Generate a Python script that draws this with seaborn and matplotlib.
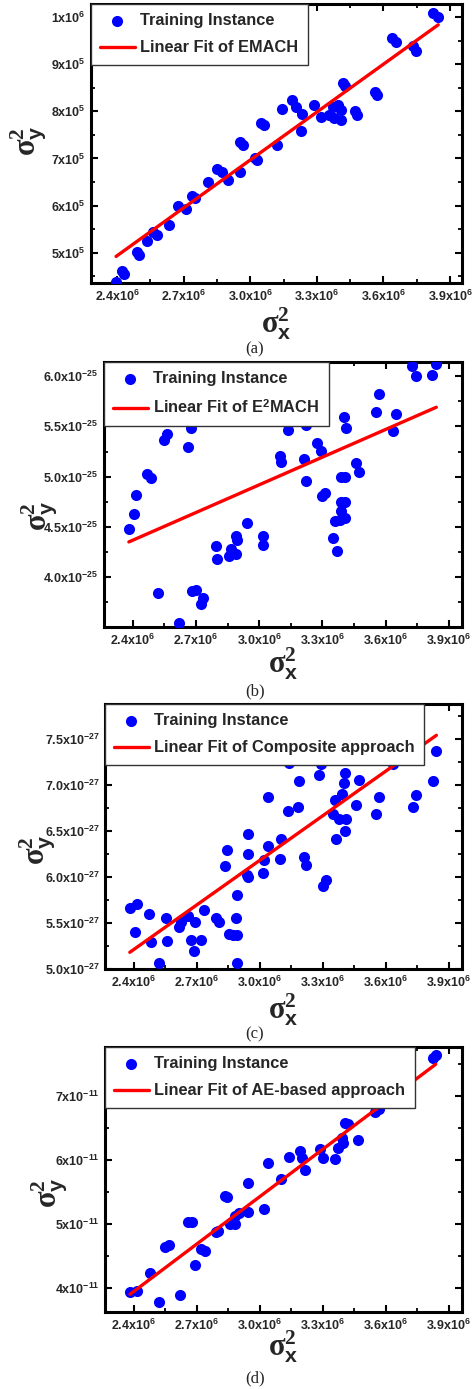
import numpy as np
import pandas as pd
import matplotlib
matplotlib.use('Agg')
import matplotlib.pyplot as plt
import seaborn as sns
from matplotlib.ticker import MultipleLocator

sns.set_style('white')
plt.rcParams['font.family'] = ['Liberation Sans', 'DejaVu Sans']
plt.rcParams['font.weight'] = 'bold'
plt.rcParams['mathtext.fontset'] = 'custom'
plt.rcParams['mathtext.rm'] = 'Liberation Serif'
plt.rcParams['mathtext.it'] = 'Liberation Serif:italic'
plt.rcParams['mathtext.bf'] = 'Liberation Sans:bold'
plt.rcParams['mathtext.default'] = 'rm'

# ---------------- data (x in 1e6, y in panel units) ----------------
xa = [2.395, 2.42, 2.43, 2.49, 2.50, 2.536, 2.56, 2.58, 2.632, 2.675, 2.708, 2.735, 2.75,
      2.81, 2.848, 2.871, 2.898, 2.953, 2.955, 2.965, 3.02, 3.03, 3.05, 3.06, 3.12, 3.145,
      3.19, 3.205, 3.231, 3.228, 3.288, 3.318, 3.371, 3.394, 3.409, 3.379, 3.409, 3.356,
      3.417, 3.425, 3.47, 3.48, 3.56, 3.57, 3.64, 3.655, 3.735, 3.745, 3.825, 3.847]
ya = [4.37, 4.60, 4.55, 5.01, 4.95, 5.25, 5.44, 5.38, 5.58, 6.00, 5.92, 6.20, 6.17,
      6.50, 6.77, 6.71, 6.55, 6.72, 7.34, 7.28, 7.02, 6.96, 7.76, 7.72, 7.28, 8.06,
      8.24, 8.10, 7.94, 7.58, 8.13, 7.89, 8.10, 8.13, 8.03, 7.85, 7.81, 7.92,
      8.60, 8.54, 8.00, 7.93, 8.42, 8.34, 9.55, 9.47, 9.38, 9.28, 10.08, 10.00]

xb = [2.382, 2.406, 2.414, 2.469, 2.488, 2.52, 2.548, 2.564, 2.619, 2.662, 2.675, 2.683,
      2.699, 2.722, 2.735, 2.796, 2.801, 2.856, 2.864, 2.888, 2.888, 2.896, 2.94, 3.016,
      3.019, 3.098, 3.102, 3.137, 3.221, 3.212, 3.221, 3.275, 3.291, 3.30, 3.311, 3.348,
      3.367, 3.359, 3.383, 3.406, 3.39, 3.406, 3.39, 3.386, 3.406, 3.401, 3.414, 3.458,
      3.474, 3.553, 3.569, 3.635, 3.648, 3.727, 3.743, 3.822, 3.840]
yb = [4.48, 4.63, 4.82, 5.03, 4.99, 3.84, 5.36, 5.42, 3.55, 5.30, 5.48, 3.86,
      3.87, 3.73, 3.79, 4.31, 4.18, 4.21, 4.28, 4.23, 4.41, 4.37, 4.54, 4.41,
      4.32, 5.21, 5.15, 5.46, 5.51, 5.18, 4.96, 5.33, 5.26, 4.81, 4.84, 4.39,
      4.26, 4.56, 4.57, 4.59, 4.66, 4.75, 4.75, 5.00, 5.00, 5.59, 5.48, 5.14,
      5.05, 5.64, 5.82, 5.45, 5.62, 6.10, 6.00, 6.01, 6.12]

xc = [2.382, 2.414, 2.406, 2.472, 2.485, 2.52, 2.552, 2.561, 2.614, 2.627, 2.658, 2.672,
      2.687, 2.694, 2.722, 2.733, 2.793, 2.804, 2.836, 2.845, 2.856, 2.872, 2.893, 2.888,
      2.893, 2.893, 2.94, 2.946, 2.946, 2.946, 3.014, 3.022, 3.038, 3.041, 3.098, 3.10,
      3.133, 3.18, 3.185, 3.137, 3.212, 3.221, 3.28, 3.291, 3.30, 3.316, 3.348, 3.375,
      3.411, 3.359, 3.39, 3.364, 3.406, 3.401, 3.406, 3.458, 3.474, 3.553, 3.569, 3.635,
      3.727, 3.743, 3.822, 3.840]
yc = [5.66, 5.71, 5.40, 5.60, 5.29, 5.07, 5.55, 5.31, 5.46, 5.51, 5.58, 5.32,
      5.20, 5.51, 5.32, 5.64, 5.55, 5.51, 6.12, 6.30, 5.38, 5.37, 5.37, 5.56,
      5.81, 5.07, 6.02, 6.00, 6.25, 6.47, 6.05, 6.19, 6.34, 6.87, 6.20, 6.41,
      6.72, 6.76, 7.05, 7.24, 6.22, 6.13, 7.11, 7.23, 5.90, 5.97, 6.69, 6.63,
      6.63, 6.84, 6.91, 6.42, 6.50, 7.03, 7.13, 6.78, 7.06, 6.69, 6.87, 7.23,
      6.76, 6.89, 7.05, 7.37]

xd = [2.383, 2.414, 2.477, 2.52, 2.55, 2.57, 2.619, 2.66, 2.68, 2.69, 2.72, 2.74, 2.79,
      2.80, 2.835, 2.845, 2.86, 2.88, 2.88, 2.90, 2.943, 2.946, 3.019, 3.038, 3.10, 3.137,
      3.193, 3.20, 3.217, 3.288, 3.303, 3.359, 3.374, 3.39, 3.398, 3.406, 3.42, 3.465,
      3.55, 3.565, 3.825, 3.837]
yd = [3.95, 3.96, 4.24, 3.78, 4.64, 4.67, 3.89, 5.03, 5.04, 4.36, 4.62, 4.58, 4.88,
      4.90, 5.44, 5.42, 5.01, 5.00, 5.13, 5.17, 5.20, 5.65, 5.24, 5.96, 5.70, 6.05,
      6.14, 6.04, 5.85, 6.17, 6.04, 6.02, 6.19, 6.35, 6.27, 6.58, 6.57, 6.32,
      6.75, 6.80, 7.60, 7.64]

# linear-fit coefficients (slope, intercept)
fit_slope = [3.388, 0.918, 1.620, 2.471]
fit_intercept = [-3.195, 2.165, 1.323, -1.981]

fit_labels = ['Linear Fit of EMACH', r'Linear Fit of E$^{\mathbf{2}}$MACH',
              'Linear Fit of Composite approach', 'Linear Fit of AE-based approach']
panel_letters = ['(a)', '(b)', '(c)', '(d)']

xtick_vals = [2.4, 2.7, 3.0, 3.3, 3.6, 3.9]
xtick_labels = [r'$\mathbf{2.4x10^{6}}$', r'$\mathbf{2.7x10^{6}}$', r'$\mathbf{3.0x10^{6}}$',
                r'$\mathbf{3.3x10^{6}}$', r'$\mathbf{3.6x10^{6}}$', r'$\mathbf{3.9x10^{6}}$']

ytick_vals_a = [5, 6, 7, 8, 9, 10]
ytick_labels_a = [r'$\mathbf{5x10^{5}}$', r'$\mathbf{6x10^{5}}$', r'$\mathbf{7x10^{5}}$',
                  r'$\mathbf{8x10^{5}}$', r'$\mathbf{9x10^{5}}$', r'$\mathbf{1x10^{6}}$']
ytick_vals_b = [4.0, 4.5, 5.0, 5.5, 6.0]
ytick_labels_b = [r'$\mathbf{4.0x10^{-25}}$', r'$\mathbf{4.5x10^{-25}}$', r'$\mathbf{5.0x10^{-25}}$',
                  r'$\mathbf{5.5x10^{-25}}$', r'$\mathbf{6.0x10^{-25}}$']
ytick_vals_c = [5.0, 5.5, 6.0, 6.5, 7.0, 7.5]
ytick_labels_c = [r'$\mathbf{5.0x10^{-27}}$', r'$\mathbf{5.5x10^{-27}}$', r'$\mathbf{6.0x10^{-27}}$',
                  r'$\mathbf{6.5x10^{-27}}$', r'$\mathbf{7.0x10^{-27}}$', r'$\mathbf{7.5x10^{-27}}$']
ytick_vals_d = [4, 5, 6, 7]
ytick_labels_d = [r'$\mathbf{4x10^{-11}}$', r'$\mathbf{5x10^{-11}}$', r'$\mathbf{6x10^{-11}}$',
                  r'$\mathbf{7x10^{-11}}$']

# ---------------- layout ----------------
W, H = 473, 1389
fig = plt.figure(figsize=(W / 100, H / 100), dpi=100)

def px_rect(l, r, t, b):
    return [l / W, 1 - b / H, (r - l) / W, (b - t) / H]

panels = [
    dict(x=xa, y=ya, rect=px_rect(91, 462, 4, 283), xlim=(2.282, 3.954), ylim=(4.355, 10.28),
         yt=ytick_vals_a, ytl=ytick_labels_a, ymin=0.5, ylab=(-0.115, 0.51), xlab=-0.08, letter_y=349),
    dict(x=xb, y=yb, rect=px_rect(104, 462, 362, 627), xlim=(2.264, 3.962), ylim=(3.506, 6.14),
         yt=ytick_vals_b, ytl=ytick_labels_b, ymin=0.25, ylab=(-0.125, 0.42), xlab=-0.07, letter_y=691),
    dict(x=xc, y=yc, rect=px_rect(105, 462, 704, 969), xlim=(2.264, 3.962), ylim=(5.0, 7.885),
         yt=ytick_vals_c, ytl=ytick_labels_c, ymin=0.25, ylab=(-0.135, 0.45), xlab=-0.085, letter_y=1034),
    dict(x=xd, y=yd, rect=px_rect(105, 462, 1047, 1312), xlim=(2.264, 3.962), ylim=(3.63, 7.77),
         yt=ytick_vals_d, ytl=ytick_labels_d, ymin=0.5, ylab=(-0.10, 0.45), xlab=-0.062, letter_y=1378),
]

for i, p in enumerate(panels):
    ax = fig.add_axes(p['rect'])
    df = pd.DataFrame({'x': p['x'], 'y': p['y']})
    sns.scatterplot(data=df, x='x', y='y', ax=ax, color='#0000FF', s=64, linewidth=0,
                    label='Training Instance', zorder=3)
    xr = np.array([df['x'].min(), df['x'].max()])
    fit_df = pd.DataFrame({'x': xr, 'y': fit_intercept[i] + fit_slope[i] * xr})
    sns.lineplot(data=fit_df, x='x', y='y', ax=ax, color='#FF0000', lw=2.4,
                 label=fit_labels[i], zorder=4)
    ax.set_xlim(*p['xlim'])
    ax.set_ylim(*p['ylim'])
    ax.set_xticks(xtick_vals, xtick_labels)
    ax.set_yticks(p['yt'], p['ytl'])
    ax.xaxis.set_minor_locator(MultipleLocator(0.15))
    ax.yaxis.set_minor_locator(MultipleLocator(p['ymin']))
    ax.tick_params(which='both', direction='in', top=True, right=True, bottom=True, left=True,
                   color='black')
    ax.tick_params(which='major', length=5, width=1.5, labelsize=9, pad=4)
    ax.tick_params(which='minor', length=3, width=1.3)
    for sp in ax.spines.values():
        sp.set_linewidth(2.2)
        sp.set_color('black')
    ax.set_xlabel(r'$\sigma^{2}_{\mathbf{x}}$', fontsize=22)
    ax.set_ylabel(r'$\sigma^{2}_{\mathbf{y}}$', fontsize=22)
    ax.xaxis.set_label_coords(0.5, p['xlab'])
    ax.yaxis.set_label_coords(*p['ylab'])
    leg = ax.legend(loc='upper left', bbox_to_anchor=(0, 1), borderaxespad=0,
                    fontsize=11.8, frameon=True, fancybox=False, framealpha=1,
                    edgecolor='#333333', handlelength=2.1, handletextpad=0.35,
                    labelspacing=0.75, borderpad=0.56, markerscale=1.0)
    leg.get_frame().set_linewidth(1.0)
    leg.set_zorder(10)
    for t in leg.get_texts():
        t.set_fontweight('bold')
    fig.text(255 / W, 1 - p['letter_y'] / H, panel_letters[i], ha='center', va='center',
             fontsize=12, family='Liberation Serif', fontweight='normal')

fig.savefig('out.png', dpi=100)
